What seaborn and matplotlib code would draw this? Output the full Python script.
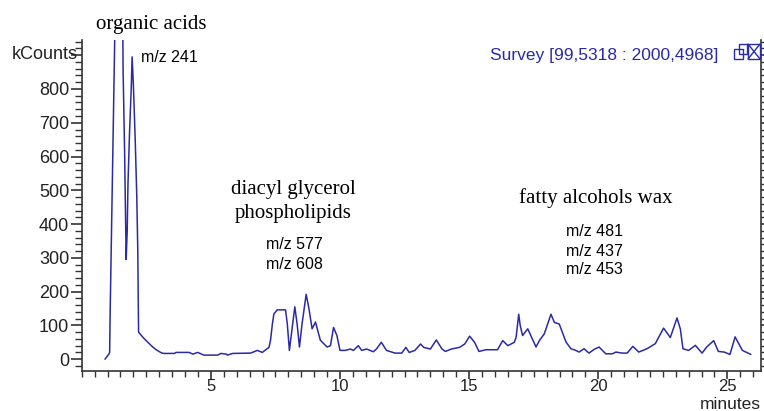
import numpy as np
import pandas as pd
import matplotlib
matplotlib.use("Agg")
import matplotlib.pyplot as plt
from matplotlib.patches import Rectangle
from matplotlib.lines import Line2D
from matplotlib.ticker import MultipleLocator, FixedLocator
import seaborn as sns

# retention time (minutes) and signal (kCounts)
minutes = [0.9, 1.05, 1.08, 1.1, 1.15, 1.2, 1.25, 1.31, 1.58, 1.6, 1.66, 1.72,
           1.76, 1.79, 1.85, 1.92, 1.95, 2.0, 2.07, 2.13, 2.17, 2.2, 2.4, 2.56,
           2.72, 2.88, 3.1, 3.2, 3.59, 3.65, 4.16, 4.3, 4.49, 4.73, 5.26, 5.39,
           5.6, 5.64, 5.84, 6.54, 6.8, 6.99, 7.25, 7.31, 7.38, 7.44, 7.57, 7.89,
           7.96, 8.04, 8.15, 8.25, 8.34, 8.43, 8.53, 8.69, 8.79, 8.92, 9.05,
           9.24, 9.5, 9.63, 9.75, 9.88, 10.0, 10.2, 10.4, 10.52, 10.71, 10.84,
           11.03, 11.29, 11.41, 11.6, 11.8, 12.13, 12.39, 12.55, 12.68, 12.9,
           13.12, 13.24, 13.5, 13.73, 13.95, 14.08, 14.31, 14.63, 14.83, 15.02,
           15.21, 15.38, 15.66, 16.1, 16.3, 16.5, 16.75, 16.82, 16.92, 16.98,
           17.07, 17.27, 17.44, 17.59, 17.72, 17.91, 18.17, 18.3, 18.49, 18.75,
           18.94, 19.13, 19.26, 19.45, 19.64, 19.84, 20.03, 20.29, 20.55, 20.68,
           20.93, 21.12, 21.34, 21.57, 21.89, 22.21, 22.53, 22.79, 23.05, 23.18,
           23.28, 23.5, 23.76, 24.02, 24.2, 24.47, 24.65, 24.88, 25.1, 25.3,
           25.58, 25.91]
kcounts = [0, 15, 20, 138, 365, 594, 820, 1100, 1100, 860, 611, 295,
           380, 518, 670, 810, 895, 810, 650, 485, 320, 80, 62, 50,
           38, 28, 18, 17, 17, 20, 20, 15, 20, 12, 12, 17,
           15, 12, 17, 18, 26, 20, 35, 56, 103, 134, 146, 146,
           104, 26, 94, 155, 104, 36, 104, 192, 153, 90, 110,
           56, 36, 40, 94, 70, 26, 26, 30, 26, 40, 26,
           30, 22, 30, 50, 26, 18, 18, 35, 20, 26,
           45, 35, 30, 57, 30, 23, 30, 35, 45, 68,
           50, 23, 28, 28, 55, 40, 50, 65, 133, 99,
           70, 90, 61, 36, 55, 75, 133, 109, 104, 51,
           31, 26, 21, 31, 18, 29, 36, 16, 16, 21,
           18, 18, 38, 21, 31, 46, 92, 64, 122, 89,
           31, 26, 41, 18, 36, 55, 23, 21, 14, 66,
           26, 14]

y_ticks = [0, 100, 200, 300, 400, 500, 600, 700, 800, 900]
y_ticklabels = ["0", "100", "200", "300", "400", "500", "600", "700", "800", ""]
x_ticks = [5, 10, 15, 20, 25]

df = pd.DataFrame({"minutes": minutes, "kcounts": kcounts})

sns.set_style("ticks")
plt.rcParams["font.family"] = ["Liberation Sans", "DejaVu Sans"]

line_col = "#2a2aa6"
txt_col = "#222222"
axis_col = "#333333"
W, H = 764, 411

fig, ax = plt.subplots(figsize=(7.64, 4.11), dpi=100)
fig.subplots_adjust(left=0.107, right=0.996, bottom=1 - 371 / H, top=1 - 40 / H)

sns.lineplot(data=df, x="minutes", y="kcounts", ax=ax, color=line_col,
             linewidth=1.1, estimator=None, sort=False)

ax.set_xlim(0, 26.3)
ax.set_ylim(-35, 945)
ax.set_xlabel("")
ax.set_ylabel("")

ax.xaxis.set_major_locator(FixedLocator(x_ticks))
ax.xaxis.set_minor_locator(MultipleLocator(0.5))
ax.yaxis.set_major_locator(FixedLocator(y_ticks))
ax.yaxis.set_minor_locator(MultipleLocator(20))
ax.set_yticklabels(y_ticklabels)

for side in ["left", "bottom", "right"]:
    ax.spines[side].set_visible(True)
    ax.spines[side].set_color(axis_col)
    ax.spines[side].set_linewidth(1.2)
ax.spines["top"].set_visible(False)

ax.tick_params(axis="y", which="major", length=8, width=1.2, color=axis_col,
               labelsize=13, labelcolor=txt_col, pad=1)
ax.tick_params(axis="y", which="minor", length=5, width=1.0, color=axis_col)
ax.tick_params(axis="x", which="major", length=6, width=1.2, color=axis_col,
               labelsize=12, labelcolor=txt_col, pad=0)
ax.tick_params(axis="x", which="minor", length=4, width=1.0, color=axis_col)
ax.tick_params(axis="y", which="both", right=True, labelright=False)

fig.text(12 / W, 1 - 54 / H, "kCounts", fontsize=13, ha="left", va="center",
         color=txt_col)

# text annotations
serif = ["Liberation Serif", "DejaVu Serif"]
ax.text(2.69, 991, "organic acids", family=serif, fontsize=15, ha="center",
        va="center", clip_on=False, color="black")
ax.text(2.30, 892, "m/z 241", fontsize=11.5, ha="left", va="center", color="black")
ax.text(8.2, 503, "diacyl glycerol", family=serif, fontsize=15, ha="center",
        va="center", color="black")
ax.text(8.2, 430, "phospholipids", family=serif, fontsize=15, ha="center",
        va="center", color="black")
ax.text(8.25, 339, "m/z 577", fontsize=11.5, ha="center", va="center", color="black")
ax.text(8.25, 281, "m/z 608", fontsize=11.5, ha="center", va="center", color="black")
ax.text(19.9, 477, "fatty alcohols wax", family=serif, fontsize=15, ha="center",
        va="center", color="black")
ax.text(19.85, 377, "m/z 481", fontsize=11.5, ha="center", va="center", color="black")
ax.text(19.85, 319, "m/z 437", fontsize=11.5, ha="center", va="center", color="black")
ax.text(19.85, 266, "m/z 453", fontsize=11.5, ha="center", va="center", color="black")
ax.text(15.79, 898, "Survey [99,5318 : 2000,4968]", fontsize=12.5, ha="left",
        va="center", color=line_col)

fig.text(761 / W, 1 - 404 / H, "minutes", fontsize=12.5, ha="right",
         va="center", color=txt_col)

# window icons at the top right
def px_rect(x0, y0, x1, y1):
    return Rectangle((x0 / W, 1 - y1 / H), (x1 - x0) / W, (y1 - y0) / H,
                     transform=fig.transFigure, fill=False, edgecolor=line_col,
                     linewidth=1.0)

fig.add_artist(px_rect(734, 49, 743, 59))
fig.add_artist(px_rect(739, 44, 747, 54))
fig.add_artist(px_rect(748, 44, 760, 59))
fig.add_artist(Line2D([748 / W, 760 / W], [1 - 44 / H, 1 - 59 / H],
                      transform=fig.transFigure, color=line_col, linewidth=1.0))
fig.add_artist(Line2D([748 / W, 760 / W], [1 - 59 / H, 1 - 44 / H],
                      transform=fig.transFigure, color=line_col, linewidth=1.0))

fig.savefig("out.png", dpi=100, facecolor="white")
